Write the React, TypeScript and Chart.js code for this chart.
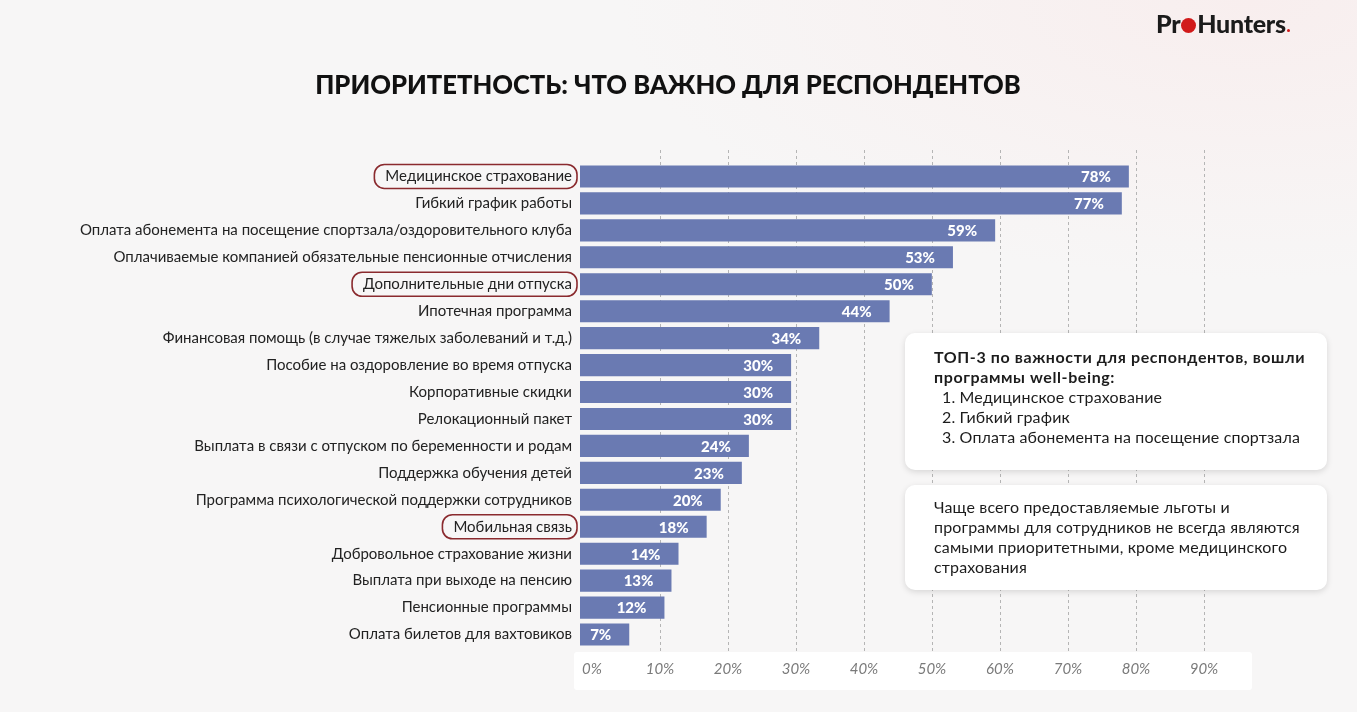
import React, { useEffect, useRef } from "react";
import { Chart, registerables } from "chart.js";

Chart.register(...registerables);

const CATEGORIES = [
  "Медицинское страхование",
  "Гибкий график работы",
  "Оплата абонемента на посещение спортзала/оздоровительного клуба",
  "Оплачиваемые компанией обязательные пенсионные отчисления",
  "Дополнительные дни отпуска",
  "Ипотечная программа",
  "Финансовая помощь (в случае тяжелых заболеваний и т.д.)",
  "Пособие на оздоровление во время отпуска",
  "Корпоративные скидки",
  "Релокационный пакет",
  "Выплата в связи с отпуском по беременности и родам",
  "Поддержка обучения детей",
  "Программа психологической поддержки сотрудников",
  "Мобильная связь",
  "Добровольное страхование жизни",
  "Выплата при выходе на пенсию",
  "Пенсионные программы",
  "Оплата билетов для вахтовиков",
];

const VALUES = [78, 77, 59, 53, 50, 44, 34, 30, 30, 30, 24, 23, 20, 18, 14, 13, 12, 7];

const TICK_VALUES = [0, 10, 20, 30, 40, 50, 60, 70, 80, 90];

const HIGHLIGHTED = ["Медицинское страхование", "Дополнительные дни отпуска", "Мобильная связь"];

const TITLE = "ПРИОРИТЕТНОСТЬ: ЧТО ВАЖНО ДЛЯ РЕСПОНДЕНТОВ";
const TOP3_HEAD = ["ТОП-3 по важности для респондентов, вошли", "программы well-being:"];
const TOP3_ITEMS = ["Медицинское страхование", "Гибкий график", "Оплата абонемента на посещение спортзала"];
const NOTE_LINES = [
  "Чаще всего предоставляемые льготы и",
  "программы для сотрудников не всегда являются",
  "самыми приоритетными, кроме медицинского",
  "страхования",
];

const FONT = "Lato, 'Noto Sans', sans-serif";
const BAR_COLOR = "#6a7ab2";
const LABEL_FONT_SIZE = 15;

function roundRect(ctx: CanvasRenderingContext2D, x: number, y: number, w: number, h: number, r: number) {
  ctx.beginPath();
  ctx.moveTo(x + r, y);
  ctx.lineTo(x + w - r, y);
  ctx.arcTo(x + w, y, x + w, y + r, r);
  ctx.lineTo(x + w, y + h - r);
  ctx.arcTo(x + w, y + h, x + w - r, y + h, r);
  ctx.lineTo(x + r, y + h);
  ctx.arcTo(x, y + h, x, y + h - r, r);
  ctx.lineTo(x, y + r);
  ctx.arcTo(x, y, x + r, y, r);
  ctx.closePath();
}

const decorPlugin = {
  id: "decor",
  beforeDraw(chart: any) {
    const ctx = chart.ctx as CanvasRenderingContext2D;
    const area = chart.chartArea;
    ctx.save();
    ctx.fillStyle = "#ffffff";
    roundRect(ctx, area.left - 6, area.bottom + 4, area.right - area.left + 6, 38, 3);
    ctx.fill();
    ctx.restore();
  },
  beforeDatasetsDraw(chart: any) {
    const ctx = chart.ctx as CanvasRenderingContext2D;
    const x2 = chart.scales.x2;
    const area = chart.chartArea;
    ctx.save();
    ctx.strokeStyle = "#b5b5b5";
    ctx.lineWidth = 1;
    ctx.setLineDash([3, 3]);
    for (const v of TICK_VALUES) {
      if (v === 0) continue;
      const px = Math.round(x2.getPixelForValue(v)) + 0.5;
      ctx.beginPath();
      ctx.moveTo(px, area.top - 13);
      ctx.lineTo(px, area.bottom + 4);
      ctx.stroke();
    }
    ctx.restore();
  },
  afterDatasetsDraw(chart: any) {
    const ctx = chart.ctx as CanvasRenderingContext2D;
    const meta = chart.getDatasetMeta(0);
    ctx.save();
    ctx.fillStyle = "#ffffff";
    ctx.font = `900 15px ${FONT}`;
    ctx.textAlign = "right";
    ctx.textBaseline = "middle";
    meta.data.forEach((bar: any, i: number) => {
      ctx.fillText(`${VALUES[i]}%`, bar.x - 18, bar.y + 1);
    });
    ctx.restore();
  },
  afterDraw(chart: any) {
    const ctx = chart.ctx as CanvasRenderingContext2D;
    const y = chart.scales.y;
    const area = chart.chartArea;
    ctx.save();
    ctx.font = `${LABEL_FONT_SIZE}px ${FONT}`;
    ctx.strokeStyle = "#8a2a2e";
    ctx.lineWidth = 1.6;
    HIGHLIGHTED.forEach((label) => {
      const idx = CATEGORIES.indexOf(label);
      if (idx < 0) return;
      const cy = y.getPixelForValue(idx);
      const w = ctx.measureText(label).width;
      const right = area.left - 3;
      const left = area.left - 8 - w - 11;
      roundRect(ctx, left, cy - 12, right - left, 24, 10);
      ctx.stroke();
    });
    ctx.restore();
  },
};

function BarChart() {
  const ref = useRef<HTMLCanvasElement | null>(null);
  useEffect(() => {
    if (!ref.current) return;
    const chart = new Chart(ref.current, {
      type: "bar",
      data: {
        labels: CATEGORIES,
        datasets: [
          {
            data: VALUES,
            backgroundColor: BAR_COLOR,
            borderWidth: 0,
            barPercentage: 0.82,
            categoryPercentage: 1,
            xAxisID: "x",
            yAxisID: "y",
          },
        ],
      },
      options: {
        indexAxis: "y",
        responsive: false,
        animation: false,
        layout: { padding: { top: 163, left: 0, right: 105, bottom: 0 } },
        plugins: {
          legend: { display: false },
          tooltip: { enabled: false },
          title: { display: false },
        },
        scales: {
          x: {
            type: "linear",
            display: false,
            min: 0,
            max: 95.5,
          },
          x2: {
            type: "linear",
            position: "bottom",
            min: -1.76,
            max: 97.06,
            afterBuildTicks: (axis: any) => {
              axis.ticks = TICK_VALUES.map((v) => ({ value: v }));
            },
            afterFit: (s: any) => {
              s.height = 64;
            },
            grid: { display: false, drawTicks: false },
            border: { display: false },
            ticks: {
              padding: 12,
              color: "#7a7a7a",
              font: { family: FONT, size: 15, style: "italic" },
              maxRotation: 0,
              autoSkip: false,
              callback: (v: any) => `${v}%`,
            },
          },
          y: {
            type: "category",
            afterFit: (s: any) => {
              s.width = 580;
            },
            grid: { display: false, drawTicks: false },
            border: { display: false },
            ticks: {
              padding: 8,
              color: "#222222",
              font: { family: FONT, size: LABEL_FONT_SIZE },
              autoSkip: false,
            },
          },
        },
      },
      plugins: [decorPlugin],
    } as any);
    return () => chart.destroy();
  }, []);
  return <canvas ref={ref} width={1357} height={712} style={{ position: "absolute", left: 0, top: 0, display: "block" }} />;
}

export default function App() {
  const boxStyle: React.CSSProperties = {
    position: "absolute",
    left: 905,
    width: 422,
    background: "#ffffff",
    borderRadius: 10,
    boxShadow: "0 2px 6px rgba(0,0,0,0.13)",
    boxSizing: "border-box",
    paddingLeft: 29,
    fontFamily: FONT,
    fontSize: 16,
    letterSpacing: 0.15,
    lineHeight: "20px",
    color: "#1c1c1c",
    whiteSpace: "nowrap",
  };
  return (
    <div
      style={{
        position: "fixed",
        left: 0,
        top: 0,
        width: 1357,
        height: 712,
        overflow: "hidden",
        background: "radial-gradient(ellipse 900px 400px at 1250px 0px, #f8eeee 0%, #f7f6f6 70%)",
        fontFamily: FONT,
      }}
    >
      <div
        style={{
          position: "absolute",
          left: 1156,
          top: 8,
          fontFamily: FONT,
          fontWeight: 900,
          fontSize: 25,
          color: "#1b1b1b",
          letterSpacing: -0.3,
          display: "flex",
          alignItems: "center",
        }}
      >
        <span>Pr</span>
        <span
          style={{
            display: "inline-block",
            width: 15,
            height: 15,
            borderRadius: "50%",
            background: "#d11a1a",
            margin: "4px 1px 0 1px",
          }}
        />
        <span>Hunters</span>
        <span
          style={{ display: "inline-block", width: 3, height: 3, borderRadius: "50%", background: "#d11a1a", marginTop: 14, marginLeft: 1 }}
        />
      </div>
      <div
        style={{
          position: "absolute",
          left: 0,
          width: 1336,
          top: 69,
          textAlign: "center",
          fontFamily: FONT,
          fontWeight: 900,
          fontSize: 25.6,
          color: "#111111",
        }}
      >
        {TITLE}
      </div>
      <BarChart />
      <div style={{ ...boxStyle, top: 333, height: 137, paddingTop: 14 }}>
        <div style={{ fontWeight: 700, letterSpacing: 0.6 }}>
          {TOP3_HEAD[0]}
          <br />
          {TOP3_HEAD[1]}
        </div>
        {TOP3_ITEMS.map((t, i) => (
          <div key={i} style={{ paddingLeft: 8 }}>
            {`${i + 1}. ${t}`}
          </div>
        ))}
      </div>
      <div style={{ ...boxStyle, top: 485, height: 105, paddingTop: 12 }}>
        {NOTE_LINES.map((t, i) => (
          <div key={i}>{t}</div>
        ))}
      </div>
    </div>
  );
}
